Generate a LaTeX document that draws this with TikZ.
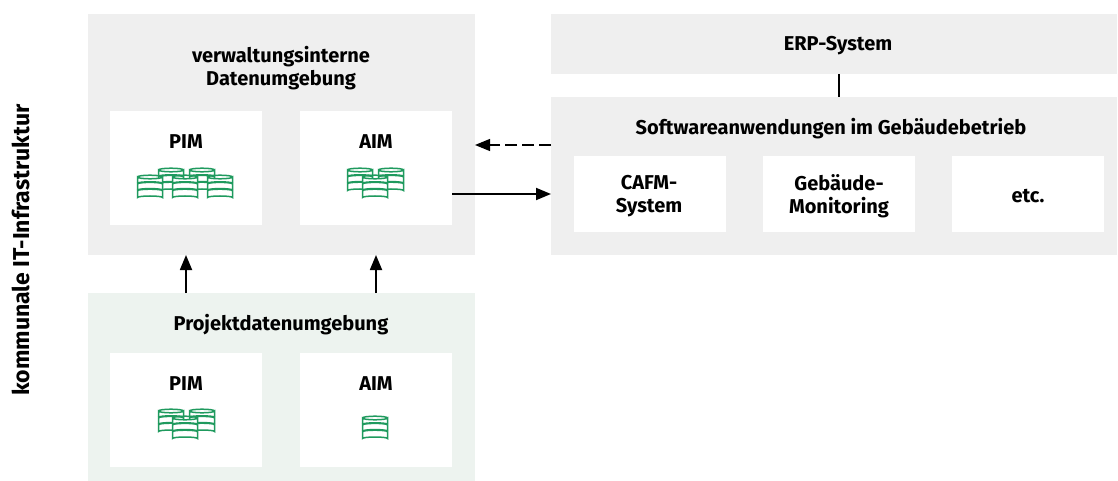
\documentclass[tikz,border=0pt]{standalone}
\usepackage{fontspec}
\setmainfont{Fira Sans}[BoldFont={Fira Sans Bold}]
\usetikzlibrary{arrows.meta,calc}
\definecolor{greybox}{HTML}{EFEFEF}
\definecolor{greenbox}{HTML}{EDF3EF}
\definecolor{dbgreen}{HTML}{1F9A5E}
\tikzset{
  x=1pt,y=-1pt,
  region/.style={fill=#1,draw=none,inner sep=0pt,anchor=north west},
  regionA/.style={region=greybox},
  regionB/.style={region=greenbox},
  inner box/.style={fill=white,draw=none,inner sep=0pt,anchor=north west,minimum width=152pt},
  label/.style={font=\bfseries\fontsize{20}{23}\selectfont,align=center,inner sep=0pt,text=black},
  conn/.style={line width=1.8pt,-{Triangle[length=15pt,width=12pt]}},
  plainconn/.style={line width=1.6pt},
  dashconn/.style={line width=1.15pt,dash pattern=on 12pt off 5pt,-{Triangle[length=15pt,width=12pt]}},
  pics/dbstack/.style={code={
    \begin{scope}[draw=dbgreen,line width=1.5pt,fill=white]
      \filldraw (-12.5,2) -- (-12.5,22.5) arc[start angle=180,end angle=360,x radius=12.5,y radius=1.5] -- (12.5,2) arc[start angle=0,end angle=180,x radius=12.5,y radius=1.8] -- cycle;
      \draw (-12.5,2) arc[start angle=180,end angle=360,x radius=12.5,y radius=1.8];
      \draw[line width=2.1pt] (-12.5,8.6) arc[start angle=180,end angle=360,x radius=12.5,y radius=1.5];
      \draw[line width=2.1pt] (-12.5,15.4) arc[start angle=180,end angle=360,x radius=12.5,y radius=1.5];
    \end{scope}
  }}
}
\begin{document}
\begin{tikzpicture}
\useasboundingbox (0,0) rectangle (1118,481);
% regions
\node[regionA,minimum width=387pt,minimum height=241pt] (verw) at (88,14) {};
\node[regionB,minimum width=387pt,minimum height=188pt] (proj) at (88,293) {};
\node[regionA,minimum width=566pt,minimum height=60pt] (erp) at (551,14) {};
\node[regionA,minimum width=566pt,minimum height=158pt] (sw) at (551,97) {};
% inner boxes
\node[inner box,minimum height=114pt] (pima) at (110,111) {};
\node[inner box,minimum height=114pt] (aima) at (300,111) {};
\node[inner box,minimum height=114pt] (pimb) at (110,353) {};
\node[inner box,minimum height=114pt] (aimb) at (300,353) {};
\node[inner box,minimum height=76pt] (cafm) at (574,156) {};
\node[inner box,minimum height=76pt] (mon) at (763,156) {};
\node[inner box,minimum height=76pt] (etc) at (952,156) {};
% labels
\node[label] (tverw) at (281,68) {verwaltungsinterne\\Datenumgebung};
\node[label] (tpima) at (186,142) {PIM};
\node[label] (taima) at (376,142) {AIM};
\node[label] (tproj) at (281,324.5) {Projektdatenumgebung};
\node[label] (tpimb) at (186,384) {PIM};
\node[label] (taimb) at (376,384) {AIM};
\node[label] (terp) at (838,46) {ERP-System};
\node[label] (tsw) at (831,129) {Softwareanwendungen im Gebäudebetrieb};
\node[label] (tcafm) at (649,196) {CAFM-\\System};
\node[label] (tmon) at (839,196) {Gebäude-\\Monitoring};
\node[label] (tetc) at (1028,196) {etc.};
\node[label,font=\bfseries\fontsize{23}{26}\selectfont,rotate=90] (tkom) at (21,250) {kommunale IT-Infrastruktur};
% database icons
\pic at (171,168) {dbstack};
\pic at (202,168) {dbstack};
\pic at (150,175) {dbstack};
\pic at (185,175) {dbstack};
\pic at (220,175) {dbstack};
\pic at (360,168) {dbstack};
\pic at (391,168) {dbstack};
\pic at (375,175) {dbstack};
\pic at (171,409) {dbstack};
\pic at (202,409) {dbstack};
\pic at (185,416) {dbstack};
\pic at (375,416) {dbstack};
% connectors
\coordinate (erpfoot) at (839,74);
\coordinate (swhead) at (839,97);
\draw[plainconn] (erpfoot) -- (swhead);
\coordinate (dashstart) at (551,145);
\coordinate (dashend) at (475,145);
\draw[dashconn] (dashstart) -- (dashend);
\coordinate (solidstart) at (452,194);
\coordinate (solidend) at (551,194);
\draw[conn] (solidstart) -- (solidend);
\coordinate (up1a) at (186,293);
\coordinate (up1b) at (186,255);
\draw[conn] (up1a) -- (up1b);
\coordinate (up2a) at (376,293);
\coordinate (up2b) at (376,255);
\draw[conn] (up2a) -- (up2b);
\end{tikzpicture}
\end{document}
